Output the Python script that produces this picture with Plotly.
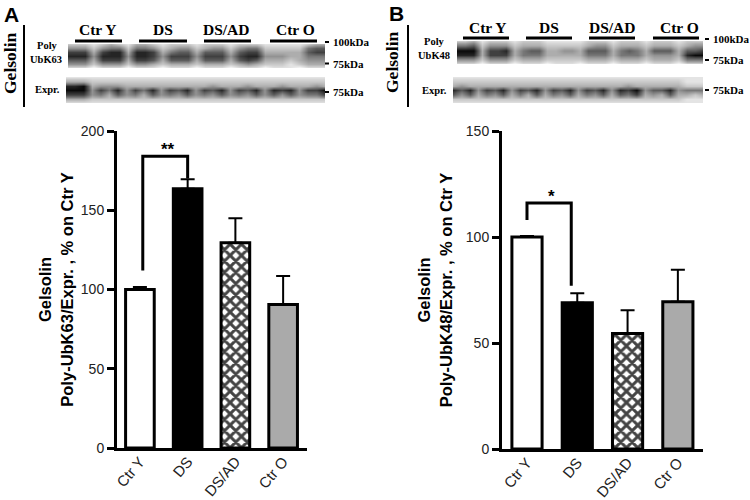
import plotly.graph_objects as go

W, H = 750, 500
categories = ["Ctr Y", "DS", "DS/AD", "Ctr O"]
tick_vals_a = [0, 50, 100, 150, 200]
tick_vals_b = [0, 50, 100, 150]
values_a = [100, 163.5, 129.5, 90.5]
errors_a = [1.5, 6, 15.5, 18]
values_b = [100, 69, 54.5, 69.5]
errors_b = [0.5, 4.5, 11, 15]
fills = ["white", "black", "white", "#aaaaaa"]
patterns = ["", "", "x", ""]
bracket_a_x = [0.06, 0.06, 1, 1]
bracket_a_y = [112, 184, 184, 170]
bracket_b_x = [0, 0, 0.88, 0.88]
bracket_b_y = [108, 116, 116, 77]
kda_labels = ["100kDa", "75kDa", "75kDa"]

# Blot darkness, 0 = white to 9 = black; each row reads left to right across 8 lanes
blot_a_top = [
    "222 1 232 1 332 1 222 1 222 1 222 1 111 1 233",
    "444 2 455 2 554 2 344 2 344 2 455 2 222 2 566",
    "777 3 788 3 887 3 566 3 666 3 677 3 333 3 677",
    "888 4 888 4 887 4 777 4 777 4 788 4 443 3 555",
    "666 3 777 3 776 3 666 3 666 3 676 3 332 3 444",
    "444 2 444 2 443 2 333 2 333 2 343 2 221 2 333",
    "111 0 111 0 111 0 111 0 111 0 111 0 111 0 111",
]
blot_a_bottom = [
    "111 1 111 1 111 1 111 1 111 1 111 1 111 1 111",
    "333 2 222 2 222 2 222 2 222 2 222 2 222 2 222",
    "889 3 444 3 333 3 333 3 343 3 343 3 343 3 343",
    "999 4 758 4 758 4 768 4 768 4 768 4 878 4 779",
    "777 4 536 4 536 4 546 4 546 4 546 4 646 4 557",
    "333 2 222 2 222 2 222 2 222 2 222 2 222 2 222",
    "111 1 111 1 111 1 111 1 111 1 111 1 111 1 111",
]
blot_b_top = [
    "223 1 222 1 222 1 111 1 222 1 222 1 222 1 222",
    "556 2 444 2 333 2 222 2 344 2 333 2 333 2 344",
    "999 3 778 3 566 3 344 3 666 3 565 3 666 3 667",
    "888 3 777 3 555 3 333 3 555 3 555 3 444 3 899",
    "444 2 444 2 333 2 222 2 333 2 333 2 333 2 555",
    "111 0 111 0 111 0 111 0 111 0 111 0 111 0 111",
]
blot_b_bottom = [
    "111 1 111 1 111 1 111 1 111 1 111 1 111 1 111",
    "222 2 222 2 222 2 222 2 222 2 222 2 222 2 111",
    "343 3 333 3 333 3 333 3 333 3 343 3 333 3 222",
    "868 4 768 4 768 4 768 4 768 4 879 4 668 4 555",
    "646 3 546 3 536 3 546 3 546 3 657 3 436 3 323",
    "222 2 222 2 222 2 222 2 222 2 222 2 222 2 111",
    "111 1 111 1 111 1 111 1 111 1 111 1 111 1 111",
]

SANS = "Liberation Sans"
SERIF = "Liberation Serif"
INK = "#222222"


def px(x):
    return x / W


def py(y):
    return 1 - y / H


fig = go.Figure()


def add_panel(n, xs, ys, vals, errs, bar_w, brx, bry, ticks, top, title, standoff):
    xa, ya = f"x{n}", f"y{n}"
    fig.add_trace(go.Bar(
        x=list(range(4)), y=vals, width=bar_w, xaxis=xa, yaxis=ya,
        marker=dict(color=fills, line=dict(color="black", width=3),
                    pattern=dict(shape=patterns, fgcolor="black", fgopacity=1,
                                 size=8, solidity=0.6, fillmode="overlay")),
        error_y=dict(type="data", symmetric=False, array=errs, arrayminus=[0] * 4,
                     color="black", thickness=2, width=7),
    ))
    fig.add_trace(go.Scatter(x=brx, y=bry, xaxis=xa, yaxis=ya, mode="lines",
                             line=dict(color="black", width=3)))
    axis_x = dict(domain=[px(xs[0]), px(xs[1])], range=xs[2], anchor=ya, tickmode="array",
                  tickvals=list(range(4)), ticktext=categories, tickangle=-50, showgrid=False,
                  showline=True, linecolor="black", linewidth=3, ticks="", zeroline=False,
                  ticklabelstandoff=-4,
                  tickfont=dict(family=SANS, size=15, color=INK))
    axis_y = dict(domain=[py(ys[1]), py(ys[0])], range=[0, top], anchor=xa, tickmode="array",
                  tickvals=ticks, showgrid=False, showline=True, linecolor="black", linewidth=3,
                  ticks="outside", ticklen=7, tickwidth=3, tickcolor="black", zeroline=False,
                  tickfont=dict(family=SANS, size=14, color=INK),
                  title=dict(text=title, standoff=standoff,
                             font=dict(family=SANS, size=16.5, color="black", weight="bold")))
    fig.layout[f"xaxis{n}"] = axis_x
    fig.layout[f"yaxis{n}"] = axis_y


def add_blot(n, rows, x0, x1, y0, y1):
    z = [[int(c) for c in r.replace(" ", "")] for r in rows]
    xa, ya = f"x{n}", f"y{n}"
    fig.add_trace(go.Heatmap(z=z, xaxis=xa, yaxis=ya, zmin=0, zmax=9, zsmooth="best",
                             showscale=False, hoverinfo="skip",
                             colorscale=[[0, "#ffffff"], [1, "#0a0a0a"]]))
    fig.layout[f"xaxis{n}"] = dict(domain=[px(x0), px(x1)], anchor=ya, visible=False,
                                   range=[0, len(z[0]) - 1])
    fig.layout[f"yaxis{n}"] = dict(domain=[py(y1), py(y0)], anchor=xa, visible=False,
                                   range=[len(z) - 1, 0])


add_panel(1, (117, 307, [-0.48, 3.5]), (131, 448), values_a, errors_a, 0.6,
          bracket_a_x, bracket_a_y, tick_vals_a, 200,
          "Gelsolin<br>Poly-UbK63/Expr. , % on Ctr Y", 4)
add_panel(2, (502, 703, [-0.497, 3.5]), (131, 449), values_b, errors_b, 0.6,
          bracket_b_x, bracket_b_y, tick_vals_b, 150,
          "Gelsolin<br>Poly-UbK48/Expr. , % on Ctr Y", 10)
add_blot(3, blot_a_top, 68, 325, 44, 68)
add_blot(4, blot_a_bottom, 66, 325, 77, 103)
add_blot(5, blot_b_top, 457, 703, 41, 64)
add_blot(6, blot_b_bottom, 453, 703, 77, 103)

annotations = []


def label(x, y, text, size=12, family=SERIF, bold=True, angle=0, anchor="center", color="black"):
    t = f"<b>{text}</b>" if bold else text
    annotations.append(dict(x=px(x), y=py(y), xref="paper", yref="paper", text=t, showarrow=False,
                            xanchor=anchor, yanchor="middle", textangle=angle,
                            font=dict(family=family, size=size, color=color)))


shapes = []


def seg(x0, y0, x1, y1, w):
    shapes.append(dict(type="line", xref="paper", yref="paper", x0=px(x0), y0=py(y0),
                       x1=px(x1), y1=py(y1), line=dict(color="black", width=w)))


# Panel A header
label(11, 14, "A", 21, SANS)
label(10, 63, "Gelsolin", 17.5, angle=-90)
seg(24, 25, 24, 107, 2)
label(47, 46, "Poly", 10.5)
label(46, 59, "UbK63", 10.5)
label(47, 90, "Expr.", 10.5)
for cx, t, a, b in zip([98, 163, 227, 295], categories, [75, 139, 204, 270], [122, 187, 251, 317]):
    label(cx, 29, t, 15.5)
    seg(a, 41, b, 41, 3)
for yy, t in zip([42, 63.5, 92], kda_labels):
    seg(325, yy, 329, yy, 2)
    label(331, yy, t, 11, anchor="left")

# Panel B header
label(396, 13, "B", 21, SANS)
label(392, 62, "Gelsolin", 17.5, angle=-90)
seg(408, 25, 408, 107, 2)
label(434, 42, "Poly", 10.5)
label(434, 56, "UbK48", 10.5)
label(434, 91, "Expr.", 10.5)
for cx, t, a, b in zip([488, 549, 612, 679], categories, [463, 526, 589, 653], [509, 572, 635, 699]):
    label(cx, 27, t, 15.5)
    seg(a, 38, b, 38, 3)
for yy, t in zip([39, 60, 90], kda_labels):
    seg(705, yy, 709, yy, 2)
    label(711, yy, t, 11, anchor="left")

# Significance stars
label(168, 149, "**", 17, SANS)
label(551, 196, "*", 17, SANS)

fig.update_layout(width=W, height=H, margin=dict(l=0, r=0, t=0, b=0), showlegend=False,
                  template="none", plot_bgcolor="white", paper_bgcolor="white",
                  annotations=annotations, shapes=shapes)
fig.write_html("out.html", post_script="document.body.style.margin='0';",
               config={"displayModeBar": False})
